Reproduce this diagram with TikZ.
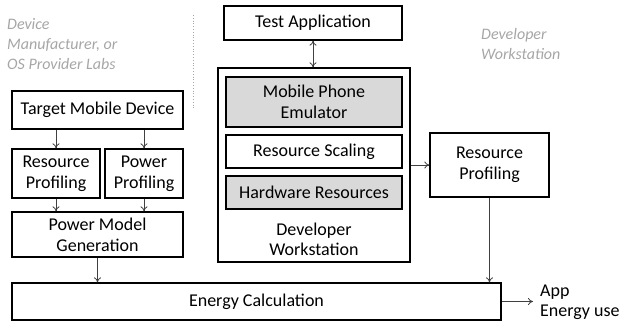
\documentclass[tikz,border=0pt]{standalone}
\usepackage{fontspec}
\setmainfont{Carlito}
\usetikzlibrary{arrows.meta}
\definecolor{labgray}{HTML}{A6A6A6}
\definecolor{boxfill}{HTML}{D9D9D9}
\definecolor{arrgray}{HTML}{404040}
\tikzset{
  box/.style={draw=black, line width=1.3pt, inner sep=0pt, align=center,
    font=\fontsize{18}{21}\selectfont},
  graybox/.style={box, fill=boxfill},
  arr/.style={draw=arrgray, line width=0.8pt, -{To[length=5pt,width=7pt]}},
  darr/.style={draw=arrgray, line width=0.8pt, {To[length=5pt,width=7pt]}-{To[length=5pt,width=7pt]}},
  glabel/.style={text=labgray, font=\fontsize{16}{20}\selectfont\itshape, align=left, inner sep=0pt, anchor=west},
  plain/.style={inner sep=0pt, align=left, font=\fontsize{18}{20}\selectfont}
}
\begin{document}
\begin{tikzpicture}[x=1pt,y=-1pt]
\useasboundingbox (0,0) rectangle (620,327);
% left column
\node[box, minimum width=171, minimum height=38] (tmd) at (97.5,110) {Target Mobile Device};
\node[box, minimum width=88, minimum height=49] (rp) at (56,173.5) {Resource\\Profiling};
\node[box, minimum width=78, minimum height=49] (pp) at (144,173.5) {Power\\Profiling};
\node[box, minimum width=171, minimum height=45] (pmg) at (97.5,234.5) {Power Model\\Generation};
% middle column
\node[box, minimum width=178, minimum height=34] (ta) at (313,23) {Test Application};
\node[box, minimum width=192, minimum height=194] (dw) at (314,165) {};
\node[graybox, minimum width=176, minimum height=50] (mpe) at (314,102) {Mobile Phone\\Emulator};
\node[box, minimum width=176, minimum height=33] (rs) at (314,151.5) {Resource Scaling};
\node[graybox, minimum width=176, minimum height=33] (hr) at (314,192.5) {Hardware Resources};
\node[plain, align=center] (dwl) at (314,239) {Developer\\Workstation};
% right
\node[box, minimum width=119, minimum height=64] (rp2) at (489.5,165) {Resource\\Profiling};
% bottom
\node[box, minimum width=489, minimum height=37] (ec) at (256.5,301.5) {Energy Calculation};
\node[plain, anchor=west] (app) at (540,302.5) {App\\Energy use};
\coordinate (appin) at (533,301.5);
% labels
\node[glabel] (lab1) at (7,44.5) {Device\\Manufacturer, or\\OS Provider Labs};
\node[glabel] (lab2) at (481,44.5) {Developer\\Workstation};
\coordinate (dtop) at (193,15);
\coordinate (dbot) at (193,108);
\draw[labgray, line width=0.8pt, dotted] (dtop) -- (dbot);
% connectors
\draw[arr] (tmd.south -| rp.north) -- (rp.north);
\draw[arr] (tmd.south -| pp.north) -- (pp.north);
\draw[arr] (rp.south) -- (rp.south |- pmg.north);
\draw[arr] (pp.south) -- (pp.south |- pmg.north);
\draw[arr] (pmg.south) -- (pmg.south |- ec.north);
\draw[darr] (ta.south) -- (ta.south |- dw.north);
\draw[arr] (rp2.west -| dw.east) -- (rp2.west);
\draw[arr] (rp2.south) -- (rp2.south |- ec.north);
\draw[arr] (ec.east) -- (appin);
\end{tikzpicture}
\end{document}
